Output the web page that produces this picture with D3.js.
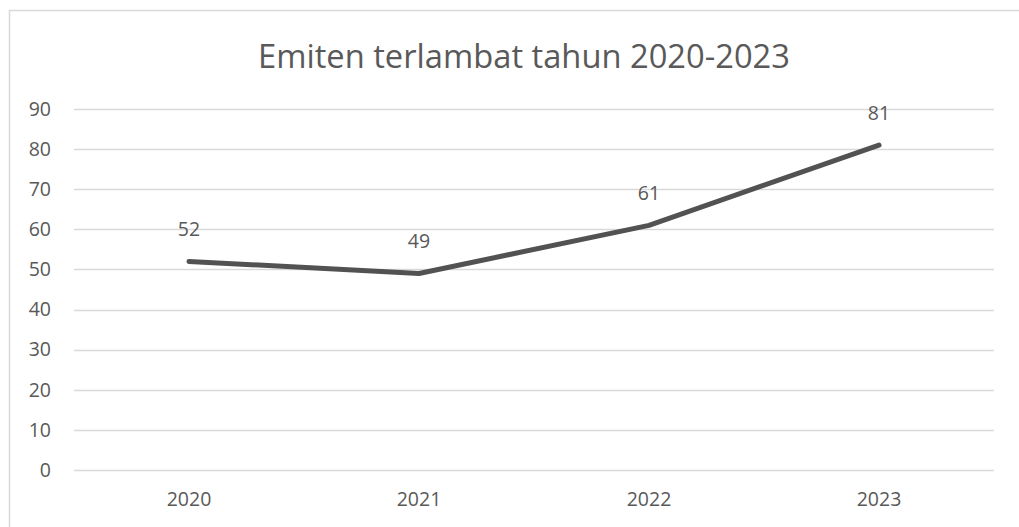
<!DOCTYPE html>
<html>
<head>
<meta charset="utf-8">
<script src="https://cdn.jsdelivr.net/npm/d3@7"></script>
<style>
  html, body { margin: 0; padding: 0; background: #fff; }
  svg { display: block; }
  text { font-family: "Open Sans", "Liberation Sans", sans-serif; fill: #595959; }
</style>
</head>
<body>
<svg id="chart" width="1019" height="527"></svg>
<script>
const title = "Emiten terlambat tahun 2020-2023";
const categories = ["2020", "2021", "2022", "2023"];
const values = [52, 49, 61, 81];
const yTicks = [0, 10, 20, 30, 40, 50, 60, 70, 80, 90];

const svg = d3.select("#chart");
const W = 1019, H = 527;
const plot = { left: 74, right: 994, top: 109, bottom: 470 };

// outer chart border (extends past the right and bottom edges)
svg.append("rect")
  .attr("x", 9.5).attr("y", 10.5)
  .attr("width", W + 20).attr("height", H + 20)
  .attr("fill", "#fff").attr("stroke", "#d9d9d9").attr("stroke-width", 1.5);

const x = d3.scaleBand().domain(categories).range([plot.left, plot.right]);
const y = d3.scaleLinear().domain([0, 90]).range([plot.bottom, plot.top]);

// gridlines
svg.append("g").selectAll("line").data(yTicks).join("line")
  .attr("x1", plot.left).attr("x2", plot.right)
  .attr("y1", d => Math.round(y(d)) + 0.5).attr("y2", d => Math.round(y(d)) + 0.5)
  .attr("stroke", "#d9d9d9").attr("stroke-width", 1.3);

// y axis labels
const yAxis = d3.axisLeft(y).tickValues(yTicks).tickSize(0).tickPadding(23);
const gy = svg.append("g").attr("transform", `translate(${plot.left},0)`).call(yAxis);
gy.select(".domain").remove();
gy.selectAll("text").style("font-size", "19.5px").attr("fill", "#595959")
  .style("font-family", "'Open Sans', 'Liberation Sans', sans-serif");

// x axis labels
const xAxis = d3.axisBottom(x).tickSize(0).tickPadding(22);
const gx = svg.append("g").attr("transform", `translate(0,${plot.bottom})`).call(xAxis);
gx.select(".domain").remove();
gx.selectAll("text").style("font-size", "19.5px").attr("fill", "#595959")
  .style("font-family", "'Open Sans', 'Liberation Sans', sans-serif");

// line
const cx = d => x(d) + x.bandwidth() / 2;
const line = d3.line().x((d, i) => cx(categories[i])).y(d => y(d));
svg.append("path").datum(values)
  .attr("d", line)
  .attr("fill", "none").attr("stroke", "#525252").attr("stroke-width", 5)
  .attr("stroke-linecap", "round").attr("stroke-linejoin", "round");

// data labels
svg.append("g").selectAll("text").data(values).join("text")
  .attr("x", (d, i) => cx(categories[i]))
  .attr("y", d => y(d) - 32)
  .attr("dy", "0.35em")
  .attr("text-anchor", "middle")
  .style("font-size", "19.5px")
  .text(d => d);

// title
svg.append("text")
  .attr("x", 524).attr("y", 68)
  .attr("text-anchor", "middle")
  .attr("textLength", 532).attr("lengthAdjust", "spacingAndGlyphs")
  .style("font-size", "33px")
  .text(title);
</script>
</body>
</html>
